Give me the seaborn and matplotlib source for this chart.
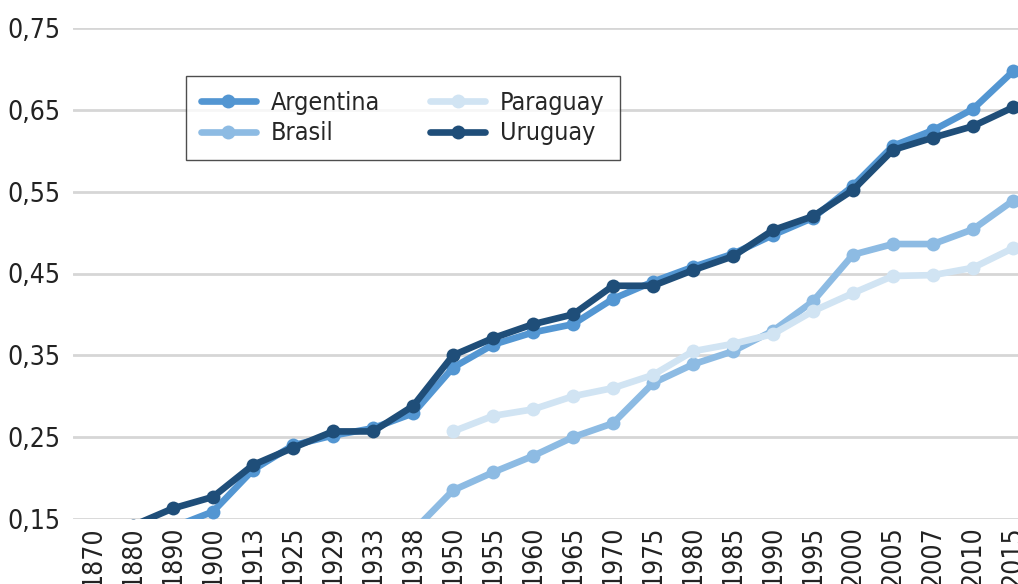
import matplotlib
matplotlib.use("Agg")
import matplotlib.pyplot as plt
import seaborn as sns
import pandas as pd
import numpy as np

sns.set_style("white")
plt.rcParams["font.family"] = ["DejaVu Sans"]
plt.rcParams["font.stretch"] = "condensed"

years = ["1870", "1880", "1890", "1900", "1913", "1925", "1929", "1933", "1938",
         "1950", "1955", "1960", "1965", "1970", "1975", "1980", "1985", "1990",
         "1995", "2000", "2005", "2007", "2010", "2015"]

argentina = [0.11, 0.12, 0.14, 0.159, 0.21, 0.24, 0.252, 0.261, 0.279,
             0.335, 0.363, 0.378, 0.388, 0.419, 0.44, 0.458, 0.474, 0.497,
             0.518, 0.557, 0.606, 0.625, 0.651, 0.697]
brasil = [np.nan, np.nan, np.nan, np.nan, np.nan, np.nan, np.nan, np.nan, 0.135,
          0.185, 0.207, 0.227, 0.25, 0.267, 0.316, 0.339, 0.355, 0.38,
          0.416, 0.473, 0.486, 0.486, 0.504, 0.539]
paraguay = [np.nan] * 9 + [0.257, 0.276, 0.284, 0.30, 0.31, 0.326, 0.355, 0.364, 0.376,
                           0.404, 0.426, 0.447, 0.448, 0.457, 0.481]
uruguay = [0.12, 0.142, 0.163, 0.177, 0.216, 0.237, 0.257, 0.257, 0.288,
           0.35, 0.371, 0.388, 0.40, 0.435, 0.435, 0.454, 0.471, 0.503,
           0.52, 0.552, 0.601, 0.616, 0.63, 0.653]

series = {"Argentina": argentina, "Brasil": brasil, "Paraguay": paraguay, "Uruguay": uruguay}
colors = {"Argentina": "#5396D2", "Brasil": "#8DBBE3", "Paraguay": "#D1E4F3", "Uruguay": "#1F4E79"}

df = pd.concat(
    [pd.DataFrame({"year": years, "value": v, "country": k}) for k, v in series.items()],
    ignore_index=True,
).dropna()

fig = plt.figure(figsize=(10.18, 5.84), dpi=100)
ax = fig.add_axes([73 / 1018, 1 - 519 / 584, 960 / 1018, 491 / 584])

sns.lineplot(data=df, x="year", y="value", hue="country", palette=colors,
             hue_order=list(series.keys()), marker="o", markersize=10,
             markeredgewidth=0, linewidth=4.8, sort=False, ax=ax)

ax.set_xlim(-0.5, len(years) - 0.5)
ax.set_ylim(0.15, 0.75)
yt = np.arange(0.15, 0.76, 0.1)
ax.set_yticks(yt)
ax.set_yticklabels([f"{t:.2f}".replace(".", ",") for t in yt], fontsize=19, color="#222222")
ax.set_xticks(range(len(years)))
ax.set_xticklabels(years, rotation=90, fontsize=19, color="#222222")
ax.tick_params(axis="y", length=0, pad=9)
ax.tick_params(axis="x", length=0, pad=5)
ax.yaxis.grid(True, color="#D6D6D6", linewidth=2)
ax.set_axisbelow(True)
for s in ax.spines.values():
    s.set_visible(False)
ax.set_xlabel("")
ax.set_ylabel("")

leg = ax.legend(ncol=2, loc="upper left", bbox_to_anchor=(0.1177, 0.902),
                borderaxespad=0, fontsize=18, frameon=True, fancybox=False,
                handlelength=2.2, columnspacing=2.0, handletextpad=0.6,
                labelspacing=0.25, borderpad=0.6)
leg.get_frame().set_edgecolor("#222222")
leg.get_frame().set_linewidth(1)
leg.set_title(None)

fig.savefig("out.png", dpi=100)
